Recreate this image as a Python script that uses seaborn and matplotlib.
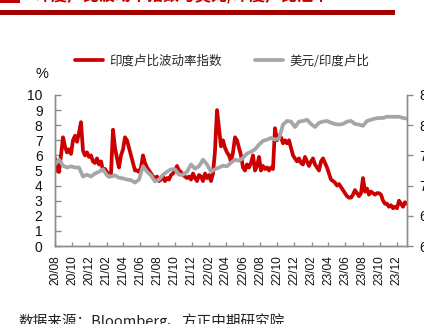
import numpy as np
import pandas as pd
import matplotlib
matplotlib.use("Agg")
import matplotlib.pyplot as plt
import matplotlib.dates as mdates
from matplotlib.lines import Line2D
from matplotlib.patches import Rectangle
import seaborn as sns

# ---------------- data ----------------
start_date = "2020-08-01"
end_date = "2024-01-06"

# INR volatility index (%), roughly weekly readings
vol_index = [
    5.8, 5.0, 4.9, 6.0, 7.2, 6.6, 6.2, 6.4, 6.1, 7.0, 7.3, 6.9, 7.5, 8.2, 6.3, 6.0,
    6.2, 5.9, 6.0, 5.6, 5.5, 5.8, 5.4, 5.6, 5.0, 5.1, 4.9, 4.6, 4.8, 7.7, 6.5, 5.8,
    5.2, 6.0, 6.4, 7.2, 7.0, 6.5, 6.0, 5.5, 5.0, 5.0, 4.9, 5.2, 6.0, 5.5, 5.2, 5.0,
    4.8, 4.6, 4.5, 4.6, 4.3, 4.4, 4.6, 4.3, 4.5, 4.4, 4.7, 4.8, 5.0, 5.3, 5.0, 4.9,
    4.7, 4.6, 4.5, 4.6, 4.4, 4.8, 4.5, 4.3, 4.7, 4.6, 4.3, 4.8, 4.5, 4.7, 4.3, 4.8,
    6.3, 9.0, 7.8, 6.6, 7.0, 6.5, 6.2, 6.0, 5.6, 6.2, 7.2, 7.0, 6.5, 6.0, 5.2, 5.0,
    5.4, 5.2, 5.5, 6.0, 5.0, 5.3, 5.9, 5.0, 5.3, 5.1, 5.2, 5.0, 5.2, 5.1, 7.8, 7.0,
    7.3, 7.2, 6.8, 7.0, 6.8, 7.0, 6.5, 6.0, 5.8, 5.6, 5.8, 5.5, 5.4, 5.9, 5.6, 5.3,
    5.6, 5.8, 5.4, 5.2, 5.0, 5.6, 5.8, 5.5, 5.2, 4.8, 4.4, 4.3, 4.2, 4.0, 4.1, 3.9,
    3.7, 3.5, 3.3, 3.2, 3.2, 3.4, 3.7, 3.5, 3.3, 3.5, 4.5, 3.6, 3.8, 3.4, 3.6, 3.5,
    3.4, 3.5, 3.5, 3.4, 3.0, 2.8, 2.8, 2.6, 2.7, 2.5, 2.6, 2.5, 3.0, 2.8, 2.6, 2.9,
    2.8,
]

# USD/INR, roughly biweekly readings (right axis)
usd_inr = [
    73.5, 74.3, 73.3, 73.0, 73.2, 73.0, 73.0, 71.5, 71.8, 71.5, 72.0, 72.3, 72.7, 71.7,
    71.5, 71.7, 71.3, 71.2, 71.0, 70.9, 70.5, 71.0, 73.2, 72.3, 71.7, 70.7, 71.0, 71.8,
    72.3, 72.7, 72.7, 71.8, 71.8, 72.3, 73.5, 72.8, 73.2, 74.3, 73.5, 72.3, 72.7, 73.0,
    73.3, 73.2, 73.8, 74.3, 74.1, 74.6, 75.3, 75.6, 76.0, 76.8, 77.4, 77.6, 77.9, 77.6,
    77.8, 80.1, 80.7, 80.6, 79.7, 80.6, 80.7, 80.9, 80.2, 79.7, 80.4, 80.6, 80.7, 80.4,
    80.2, 80.1, 80.2, 80.6, 80.7, 80.2, 80.1, 79.9, 80.7, 80.9, 81.1, 81.2, 81.2, 81.4,
    81.4, 81.4, 81.4, 81.2, 81.1,
]

left_ticks = list(range(0, 11))
right_ticks = [60, 65, 70, 75, 80, 85]
label_vol = "印度卢比波动率指数"
label_fx = "美元/印度卢比"
title_text = "印度卢比波动率指数与美元/印度卢比汇率"
source_text = "数据来源：Bloomberg、方正中期研究院"

df_vol = pd.DataFrame({
    "date": pd.date_range(start_date, end_date, periods=len(vol_index)),
    "value": vol_index,
})
df_fx = pd.DataFrame({
    "date": pd.date_range(start_date, end_date, periods=len(usd_inr)),
    "value": usd_inr,
})

# ---------------- style ----------------
sns.set_theme(style="white")
plt.rcParams["font.family"] = ["Liberation Sans", "Noto Sans CJK SC", "DejaVu Sans"]
plt.rcParams["axes.unicode_minus"] = False

RED = "#CC0000"
GREY = "#A6A6A6"
AXC = "#8C8C8C"

W, H = 424, 324
fig = plt.figure(figsize=(W / 100, H / 100), dpi=100)
ax = fig.add_axes([55 / W, 1 - 246 / H, (407 - 55) / W, (246 - 95) / H])
ax2 = ax.twinx()

sns.lineplot(data=df_vol, x="date", y="value", ax=ax, color=RED, linewidth=2.7)
sns.lineplot(data=df_fx, x="date", y="value", ax=ax2, color=GREY, linewidth=2.7)

ax.set_xlim(pd.Timestamp(start_date), pd.Timestamp(end_date))
ax.set_ylim(0, 10)
ax.set_yticks(left_ticks)
ax2.set_ylim(60, 85)
ax2.set_yticks(right_ticks)

ax.xaxis.set_major_locator(mdates.MonthLocator(bymonth=[2, 4, 6, 8, 10, 12]))
ax.xaxis.set_major_formatter(mdates.DateFormatter("%y/%m"))

for a in (ax, ax2):
    a.set_xlabel("")
    a.set_ylabel("")
    a.grid(False)
    a.spines["top"].set_visible(False)
    for s in ("left", "right", "bottom"):
        a.spines[s].set_color(AXC)
        a.spines[s].set_linewidth(1.0)

ax.tick_params(axis="y", direction="in", length=4, width=1, color=AXC,
               labelsize=10, pad=9, labelcolor="#111111", left=True)
ax.tick_params(axis="x", direction="in", length=3, width=1, color=AXC,
               labelsize=8.6, pad=7, labelcolor="#111111", rotation=90, bottom=True)
ax2.tick_params(axis="y", direction="out", length=4, width=1, color=AXC,
                labelsize=10, pad=5, labelcolor="#111111", right=True)
if ax.get_legend():
    ax.get_legend().remove()
if ax2.get_legend():
    ax2.get_legend().remove()

# unit
fig.text(36 / W, 1 - 74 / H, "%", fontsize=10.5, ha="left", va="center", color="#111111")

# legend
handles = [Line2D([], [], color=RED, lw=2.7), Line2D([], [], color=GREY, lw=2.7)]
fig.legend(handles, [label_vol, label_fx], loc="center", ncol=2, frameon=False,
           bbox_to_anchor=(222 / W, 1 - 61 / H), handlelength=2.3,
           handletextpad=0.5, columnspacing=2.6,
           prop={"family": ["Noto Sans CJK SC", "Liberation Sans"], "size": 9})

# cut-off title and red bar at the top
fig.text(35 / W, 1 - 3.5 / H, title_text, fontsize=11.5, fontweight="bold",
         color="#C00000", ha="left", va="bottom",
         family=["Noto Sans CJK SC", "DejaVu Sans"])
fig.patches.append(Rectangle((0, 1 - 3 / H), 20 / W, 3 / H, transform=fig.transFigure,
                             facecolor="#C00000", edgecolor="none"))
fig.patches.append(Rectangle((0, 1 - 15 / H), 395 / W, 5 / H, transform=fig.transFigure,
                             facecolor="#A00000", edgecolor="none"))

# source (cut at the bottom edge as in the original)
fig.text(18 / W, 1 - 321 / H, source_text, fontsize=10.5, style="italic",
         color="#222222", ha="left", va="center",
         family=["Noto Sans CJK SC", "Liberation Sans"])

fig.savefig("out.png", dpi=100)
